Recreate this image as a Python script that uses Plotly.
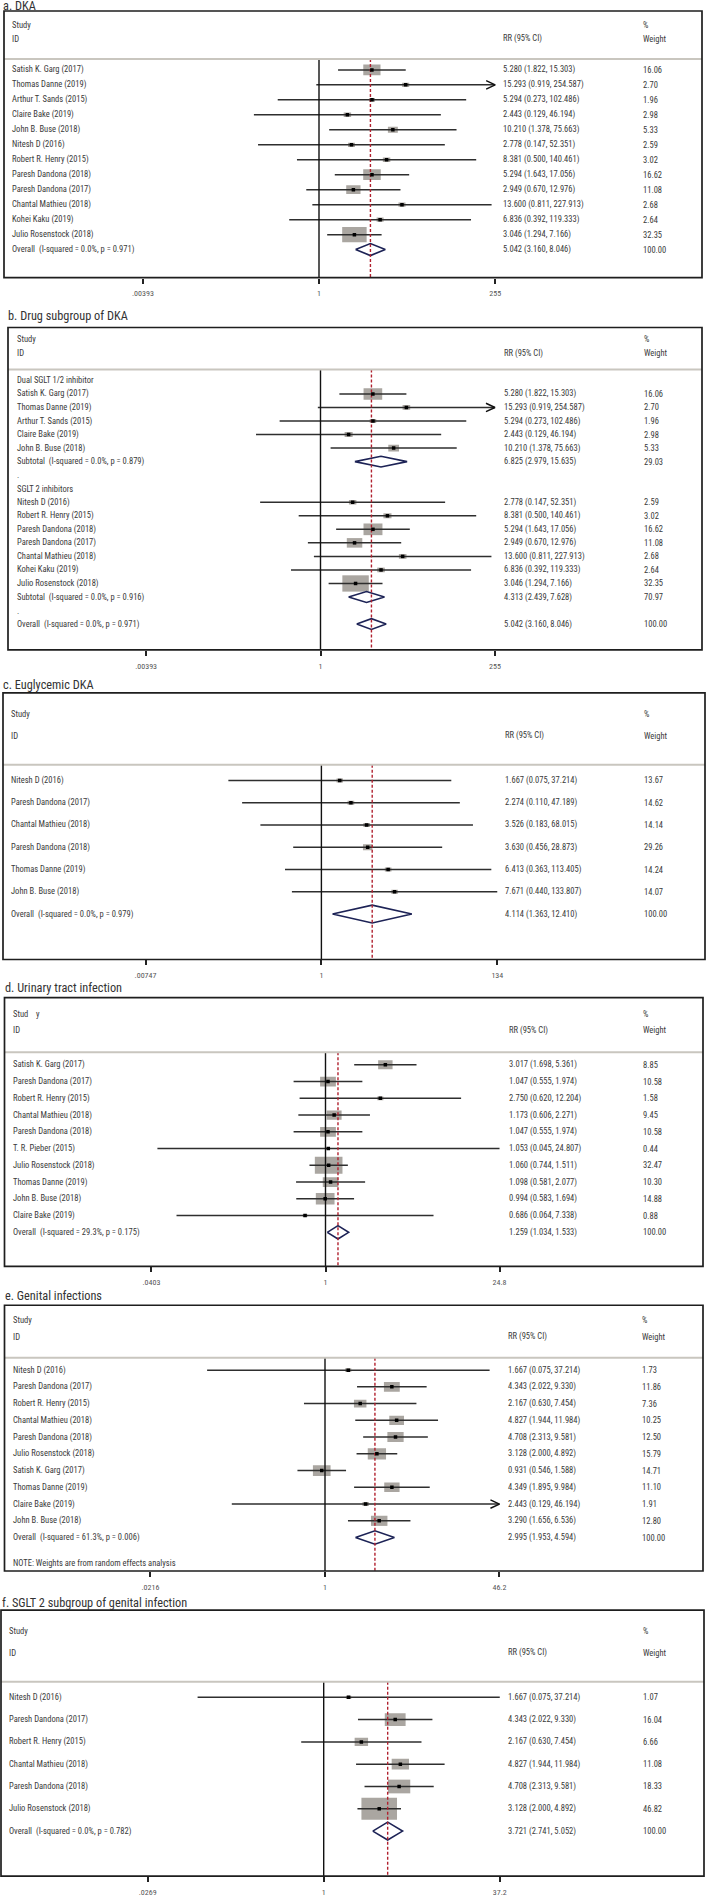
import math
import plotly.graph_objects as go

W, H = 709, 1897
FONT = "Roboto Condensed, DejaVu Sans Condensed, sans-serif"
TXT = "#3a3a3a"
BOX = "#aaa6a1"
NAVY = "#1d2356"
RED = "#b0202e"

# ---------------- data ----------------
# a. DKA
a_studies = ["Satish K. Garg (2017)", "Thomas Danne (2019)", "Arthur T. Sands (2015)",
             "Claire Bake (2019)", "John B. Buse (2018)", "Nitesh D (2016)",
             "Robert R. Henry (2015)", "Paresh Dandona (2018)", "Paresh Dandona (2017)",
             "Chantal Mathieu (2018)", "Kohei Kaku (2019)", "Julio Rosenstock (2018)"]
a_rr = [5.280, 15.293, 5.294, 2.443, 10.210, 2.778, 8.381, 5.294, 2.949, 13.600, 6.836, 3.046]
a_lo = [1.822, 0.919, 0.273, 0.129, 1.378, 0.147, 0.500, 1.643, 0.670, 0.811, 0.392, 1.294]
a_hi = [15.303, 254.587, 102.486, 46.194, 75.663, 52.351, 140.461, 17.056, 12.976, 227.913, 119.333, 7.166]
a_w = [16.06, 2.70, 1.96, 2.98, 5.33, 2.59, 3.02, 16.62, 11.08, 2.68, 2.64, 32.35]
a_overall_label = "Overall  (I-squared = 0.0%, p = 0.971)"
a_overall = [5.042, 3.160, 8.046, 100.00]
a_tick_values = [0.00393, 1, 255]
a_tick_labels = [".00393", "1", "255"]
a_arrows = ["Thomas Danne (2019)"]

# b. Drug subgroup of DKA
b_g1_label = "Dual SGLT 1/2 inhibitor"
b_g1_studies = ["Satish K. Garg (2017)", "Thomas Danne (2019)", "Arthur T. Sands (2015)",
                "Claire Bake (2019)", "John B. Buse (2018)"]
b_g1_rr = [5.280, 15.293, 5.294, 2.443, 10.210]
b_g1_lo = [1.822, 0.919, 0.273, 0.129, 1.378]
b_g1_hi = [15.303, 254.587, 102.486, 46.194, 75.663]
b_g1_w = [16.06, 2.70, 1.96, 2.98, 5.33]
b_g1_sub_label = "Subtotal  (I-squared = 0.0%, p = 0.879)"
b_g1_sub = [6.825, 2.979, 15.635, 29.03]
b_g2_label = "SGLT 2 inhibitors"
b_g2_studies = ["Nitesh D (2016)", "Robert R. Henry (2015)", "Paresh Dandona (2018)",
                "Paresh Dandona (2017)", "Chantal Mathieu (2018)", "Kohei Kaku (2019)",
                "Julio Rosenstock (2018)"]
b_g2_rr = [2.778, 8.381, 5.294, 2.949, 13.600, 6.836, 3.046]
b_g2_lo = [0.147, 0.500, 1.643, 0.670, 0.811, 0.392, 1.294]
b_g2_hi = [52.351, 140.461, 17.056, 12.976, 227.913, 119.333, 7.166]
b_g2_w = [2.59, 3.02, 16.62, 11.08, 2.68, 2.64, 32.35]
b_g2_sub_label = "Subtotal  (I-squared = 0.0%, p = 0.916)"
b_g2_sub = [4.313, 2.439, 7.628, 70.97]
b_overall_label = "Overall  (I-squared = 0.0%, p = 0.971)"
b_overall = [5.042, 3.160, 8.046, 100.00]
b_tick_values = [0.00393, 1, 255]
b_tick_labels = [".00393", "1", "255"]
b_arrows = ["Thomas Danne (2019)"]

# c. Euglycemic DKA
c_studies = ["Nitesh D (2016)", "Paresh Dandona (2017)", "Chantal Mathieu (2018)",
             "Paresh Dandona (2018)", "Thomas Danne (2019)", "John B. Buse (2018)"]
c_rr = [1.667, 2.274, 3.526, 3.630, 6.413, 7.671]
c_lo = [0.075, 0.110, 0.183, 0.456, 0.363, 0.440]
c_hi = [37.214, 47.189, 68.015, 28.873, 113.405, 133.807]
c_w = [13.67, 14.62, 14.14, 29.26, 14.24, 14.07]
c_overall_label = "Overall  (I-squared = 0.0%, p = 0.979)"
c_overall = [4.114, 1.363, 12.410, 100.00]
c_tick_values = [0.00747, 1, 134]
c_tick_labels = [".00747", "1", "134"]
c_arrows = []

# d. Urinary tract infection
d_studies = ["Satish K. Garg (2017)", "Paresh Dandona (2017)", "Robert R. Henry (2015)",
             "Chantal Mathieu (2018)", "Paresh Dandona (2018)", "T. R. Pieber (2015)",
             "Julio Rosenstock (2018)", "Thomas Danne (2019)", "John B. Buse (2018)",
             "Claire Bake (2019)"]
d_rr = [3.017, 1.047, 2.750, 1.173, 1.047, 1.053, 1.060, 1.098, 0.994, 0.686]
d_lo = [1.698, 0.555, 0.620, 0.606, 0.555, 0.045, 0.744, 0.581, 0.583, 0.064]
d_hi = [5.361, 1.974, 12.204, 2.271, 1.974, 24.807, 1.511, 2.077, 1.694, 7.338]
d_w = [8.85, 10.58, 1.58, 9.45, 10.58, 0.44, 32.47, 10.30, 14.88, 0.88]
d_overall_label = "Overall  (I-squared = 29.3%, p = 0.175)"
d_overall = [1.259, 1.034, 1.533, 100.00]
d_tick_values = [0.0403, 1, 24.8]
d_tick_labels = [".0403", "1", "24.8"]
d_arrows = []

# e. Genital infections
e_studies = ["Nitesh D (2016)", "Paresh Dandona (2017)", "Robert R. Henry (2015)",
             "Chantal Mathieu (2018)", "Paresh Dandona (2018)", "Julio Rosenstock (2018)",
             "Satish K. Garg (2017)", "Thomas Danne (2019)", "Claire Bake (2019)",
             "John B. Buse (2018)"]
e_rr = [1.667, 4.343, 2.167, 4.827, 4.708, 3.128, 0.931, 4.349, 2.443, 3.290]
e_lo = [0.075, 2.022, 0.630, 1.944, 2.313, 2.000, 0.546, 1.895, 0.129, 1.656]
e_hi = [37.214, 9.330, 7.454, 11.984, 9.581, 4.892, 1.588, 9.984, 46.194, 6.536]
e_w = [1.73, 11.86, 7.36, 10.25, 12.50, 15.79, 14.71, 11.10, 1.91, 12.80]
e_overall_label = "Overall  (I-squared = 61.3%, p = 0.006)"
e_overall = [2.995, 1.953, 4.594, 100.00]
e_note = "NOTE: Weights are from random effects analysis"
e_tick_values = [0.0216, 1, 46.2]
e_tick_labels = [".0216", "1", "46.2"]
e_arrows = ["Claire Bake (2019)"]

# f. SGLT 2 subgroup of genital infection
f_studies = ["Nitesh D (2016)", "Paresh Dandona (2017)", "Robert R. Henry (2015)",
             "Chantal Mathieu (2018)", "Paresh Dandona (2018)", "Julio Rosenstock (2018)"]
f_rr = [1.667, 4.343, 2.167, 4.827, 4.708, 3.128]
f_lo = [0.075, 2.022, 0.630, 1.944, 2.313, 2.000]
f_hi = [37.214, 9.330, 7.454, 11.984, 9.581, 4.892]
f_w = [1.07, 16.04, 6.66, 11.08, 18.33, 46.82]
f_overall_label = "Overall  (I-squared = 0.0%, p = 0.782)"
f_overall = [3.721, 2.741, 5.052, 100.00]
f_tick_values = [0.0269, 1, 37.2]
f_tick_labels = [".0269", "1", "37.2"]
f_arrows = []

titles = ["a. DKA", "b. Drug subgroup of DKA", "c. Euglycemic DKA",
          "d. Urinary tract infection", "e. Genital infections",
          "f. SGLT 2 subgroup of genital infection"]


# ---------------- row builders ----------------
def study_rows(names, rr, lo, hi, w, arrows):
    return [dict(kind="study", label=n, rr=r, lo=l, hi=h, w=ww, arrow=(n in arrows))
            for n, r, l, h, ww in zip(names, rr, lo, hi, w)]


def pooled_row(kind, label, vals):
    return dict(kind=kind, label=label, rr=vals[0], lo=vals[1], hi=vals[2], w=vals[3])


rows_a = study_rows(a_studies, a_rr, a_lo, a_hi, a_w, a_arrows) + \
    [pooled_row("overall", a_overall_label, a_overall)]
rows_b = [dict(kind="text", label=b_g1_label)] + \
    study_rows(b_g1_studies, b_g1_rr, b_g1_lo, b_g1_hi, b_g1_w, b_arrows) + \
    [pooled_row("sub", b_g1_sub_label, b_g1_sub), dict(kind="text", label="."),
     dict(kind="text", label=b_g2_label)] + \
    study_rows(b_g2_studies, b_g2_rr, b_g2_lo, b_g2_hi, b_g2_w, b_arrows) + \
    [pooled_row("sub", b_g2_sub_label, b_g2_sub), dict(kind="text", label="."),
     pooled_row("overall", b_overall_label, b_overall)]
rows_c = study_rows(c_studies, c_rr, c_lo, c_hi, c_w, c_arrows) + \
    [pooled_row("overall", c_overall_label, c_overall)]
rows_d = study_rows(d_studies, d_rr, d_lo, d_hi, d_w, d_arrows) + \
    [pooled_row("overall", d_overall_label, d_overall)]
rows_e = study_rows(e_studies, e_rr, e_lo, e_hi, e_w, e_arrows) + \
    [pooled_row("overall", e_overall_label, e_overall)]
rows_f = study_rows(f_studies, f_rr, f_lo, f_hi, f_w, f_arrows) + \
    [pooled_row("overall", f_overall_label, f_overall)]

# ---------------- layout geometry (pixels) ----------------
panels = [
    dict(rows=rows_a, tv=a_tick_values, tl=a_tick_labels, ov=a_overall[0], study_hdr="Study",
         title_x=2, title_y=6, top=11, bottom=278, left=4, right=702, study_y=25, id_y=39,
         sep_y=59, row0=70, dy=15.0, vline=319, ppd=73.2, label_x=11, rr_x=502, w_x=642, box_c=4.3),
    dict(rows=rows_b, tv=b_tick_values, tl=b_tick_labels, ov=b_overall[0], study_hdr="Study",
         title_x=7, title_y=317, top=328, bottom=651, left=8, right=702, study_y=340, id_y=354,
         sep_y=370, row0=381, dy=13.56, vline=320.5, ppd=72.5, label_x=16, rr_x=503, w_x=643, box_c=4.65),
    dict(rows=rows_c, tv=c_tick_values, tl=c_tick_labels, ov=c_overall[0], study_hdr="Study",
         title_x=2, title_y=686, top=694, bottom=961, left=3, right=705, study_y=715, id_y=737,
         sep_y=766, row0=781.7, dy=22.3, vline=321.4, ppd=82.7, label_x=9.5, rr_x=504, w_x=643, box_c=1.75),
    dict(rows=rows_d, tv=d_tick_values, tl=d_tick_labels, ov=d_overall[0],
         study_hdr="Stud\u00a0\u00a0\u00a0\u00a0y",
         title_x=4, title_y=990, top=999.3, bottom=1268.3, left=4.5, right=703, study_y=1015.7,
         id_y=1032, sep_y=1054, row0=1066.5, dy=16.78, vline=325.5, ppd=124.8, label_x=11.5,
         rr_x=508, w_x=642, box_c=4.85),
    dict(rows=rows_e, tv=e_tick_values, tl=e_tick_labels, ov=e_overall[0], study_hdr="Study",
         title_x=4, title_y=1298.3, top=1307.3, bottom=1573.5, left=4.5, right=703, study_y=1321.7,
         id_y=1338.7, sep_y=1360, row0=1372.3, dy=16.77, vline=325, ppd=104.8, label_x=11.5,
         rr_x=507, w_x=641, box_c=4.6, note=e_note, note_y=1565.3),
    dict(rows=rows_f, tv=f_tick_values, tl=f_tick_labels, ov=f_overall[0], study_hdr="Study",
         title_x=1, title_y=1606, top=1612.7, bottom=1879, left=1, right=704, study_y=1633.3,
         id_y=1655.3, sep_y=1684.3, row0=1700, dy=22.33, vline=323.7, ppd=112.1, label_x=7.5,
         rr_x=507, w_x=642, box_c=5.2),
]

FS = 8.5
fig = go.Figure()
shapes, annotations, axes = [], [], {}


def pap_y(ypx):
    return 1 - ypx / H


def txt(text, x, y, yref="paper", size=FS, color=TXT):
    annotations.append(dict(text=text.replace("  ", "\u00a0\u00a0"), x=x / W, xref="paper",
                            y=y, yref=yref, xanchor="left", yanchor="middle",
                            showarrow=False, borderpad=0,
                            font=dict(family=FONT, size=size, color=color)))


for i, P in enumerate(panels):
    n = i + 1
    xs = "x" if n == 1 else f"x{n}"
    ys = "y" if n == 1 else f"y{n}"
    xk = "xaxis" if n == 1 else f"xaxis{n}"
    yk = "yaxis" if n == 1 else f"yaxis{n}"
    row0, dy, ppd = P["row0"], P["dy"], P["ppd"]

    def yr(ypx, row0=row0, dy=dy):
        return (ypx - row0) / dy

    xmax = P["tv"][-1]
    axes[xk] = dict(type="log", domain=[P["left"] / W, P["right"] / W],
                    range=[(P["left"] - P["vline"]) / ppd, (P["right"] - P["vline"]) / ppd],
                    anchor=ys, tickmode="array", tickvals=P["tv"], ticktext=P["tl"],
                    ticks="outside", ticklen=5, tickwidth=1.5, tickcolor="#222",
                    showgrid=False, zeroline=False, showline=False, fixedrange=True,
                    ticklabelstandoff=3,
                    tickfont=dict(family=FONT, size=8, color="#555"))
    axes[yk] = dict(domain=[1 - P["bottom"] / H, 1 - P["top"] / H],
                    range=[yr(P["bottom"]), yr(P["top"])], anchor=xs, visible=False,
                    fixedrange=True)

    rows = P["rows"]
    common = dict(xaxis=xs, yaxis=ys, hoverinfo="skip", showlegend=False)

    # weight boxes
    for k, r in enumerate(rows):
        if r["kind"] != "study":
            continue
        wpx = P["box_c"] * math.sqrt(r["w"])
        f = 10 ** (wpx / 2 / ppd)
        hy = wpx / 1.62 / 2 / dy
        fig.add_trace(go.Scatter(x=[r["rr"] / f, r["rr"] * f, r["rr"] * f, r["rr"] / f, r["rr"] / f],
                                 y=[k - hy, k - hy, k + hy, k + hy, k - hy], mode="lines",
                                 fill="toself", fillcolor=BOX, line=dict(width=0, color=BOX),
                                 **common))
    # CI lines and arrows
    cx, cy, ax_, ay_ = [], [], [], []
    for k, r in enumerate(rows):
        if r["kind"] != "study":
            continue
        hi = xmax if r["arrow"] else min(r["hi"], xmax)
        cx += [r["lo"], hi, None]
        cy += [k, k, None]
        if r["arrow"]:
            back = hi / 10 ** (9 / ppd)
            ax_ += [back, hi, back, None]
            ay_ += [k - 4.2 / dy, k, k + 4.2 / dy, None]
    fig.add_trace(go.Scatter(x=cx, y=cy, mode="lines", line=dict(color="#2e2e2e", width=1.5), **common))
    if ax_:
        fig.add_trace(go.Scatter(x=ax_, y=ay_, mode="lines", line=dict(color="#111", width=1.5), **common))
    # diamonds
    dx, dyy = [], []
    for k, r in enumerate(rows):
        if r["kind"] in ("sub", "overall"):
            dx += [r["lo"], r["rr"], r["hi"], r["rr"], r["lo"], None]
            dyy += [k, k - 0.4, k, k + 0.4, k, None]
    fig.add_trace(go.Scatter(x=dx, y=dyy, mode="lines", line=dict(color=NAVY, width=1.6), **common))
    # null line and overall dashed line
    fig.add_trace(go.Scatter(x=[1, 1], y=[yr(P["sep_y"]), yr(P["bottom"])], mode="lines",
                             line=dict(color="#111", width=1.4), **common))
    fig.add_trace(go.Scatter(x=[P["ov"], P["ov"]], y=[yr(P["sep_y"]), yr(P["bottom"])], mode="lines",
                             line=dict(color=RED, width=1.4, dash="3px,2px"), **common))
    # point estimates
    sx = [r["rr"] for r in rows if r["kind"] == "study"]
    sy = [k for k, r in enumerate(rows) if r["kind"] == "study"]
    fig.add_trace(go.Scatter(x=sx, y=sy, mode="markers",
                             marker=dict(symbol="square", size=3.5, color="#000"), **common))

    # texts
    for k, r in enumerate(rows):
        txt(r["label"], P["label_x"], k, yref=ys)
        if r["kind"] != "text":
            txt(f"{r['rr']:.3f} ({r['lo']:.3f}, {r['hi']:.3f})", P["rr_x"], k, yref=ys)
            txt(f"{r['w']:.2f}", P["w_x"], k, yref=ys)
    txt(P["study_hdr"], P["label_x"], pap_y(P["study_y"]))
    txt("ID", P["label_x"], pap_y(P["id_y"]))
    txt("RR (95% CI)", P["rr_x"], pap_y(P["id_y"]))
    txt("%", P["w_x"], pap_y(P["study_y"]))
    txt("Weight", P["w_x"], pap_y(P["id_y"]))
    if "note" in P:
        txt(P["note"], P["label_x"], pap_y(P["note_y"]))
    txt(titles[i], P["title_x"], pap_y(P["title_y"]), size=12.3, color="#333")

    shapes.append(dict(type="line", xref="paper", yref="paper", x0=P["left"] / W, x1=P["right"] / W,
                       y0=pap_y(P["sep_y"]), y1=pap_y(P["sep_y"]),
                       line=dict(color="#c9c6bf", width=2)))
    shapes.append(dict(type="rect", xref="paper", yref="paper", x0=P["left"] / W, x1=P["right"] / W,
                       y0=pap_y(P["bottom"]), y1=pap_y(P["top"]),
                       line=dict(color="#1e1e1e", width=1.7), layer="above"))

fig.update_layout(width=W, height=H, margin=dict(l=0, r=0, t=0, b=0),
                  paper_bgcolor="white", plot_bgcolor="white", showlegend=False,
                  shapes=shapes, annotations=annotations, **axes)
fig.write_html("out.html", config={"displayModeBar": False},
               post_script="document.body.style.margin='0';")
